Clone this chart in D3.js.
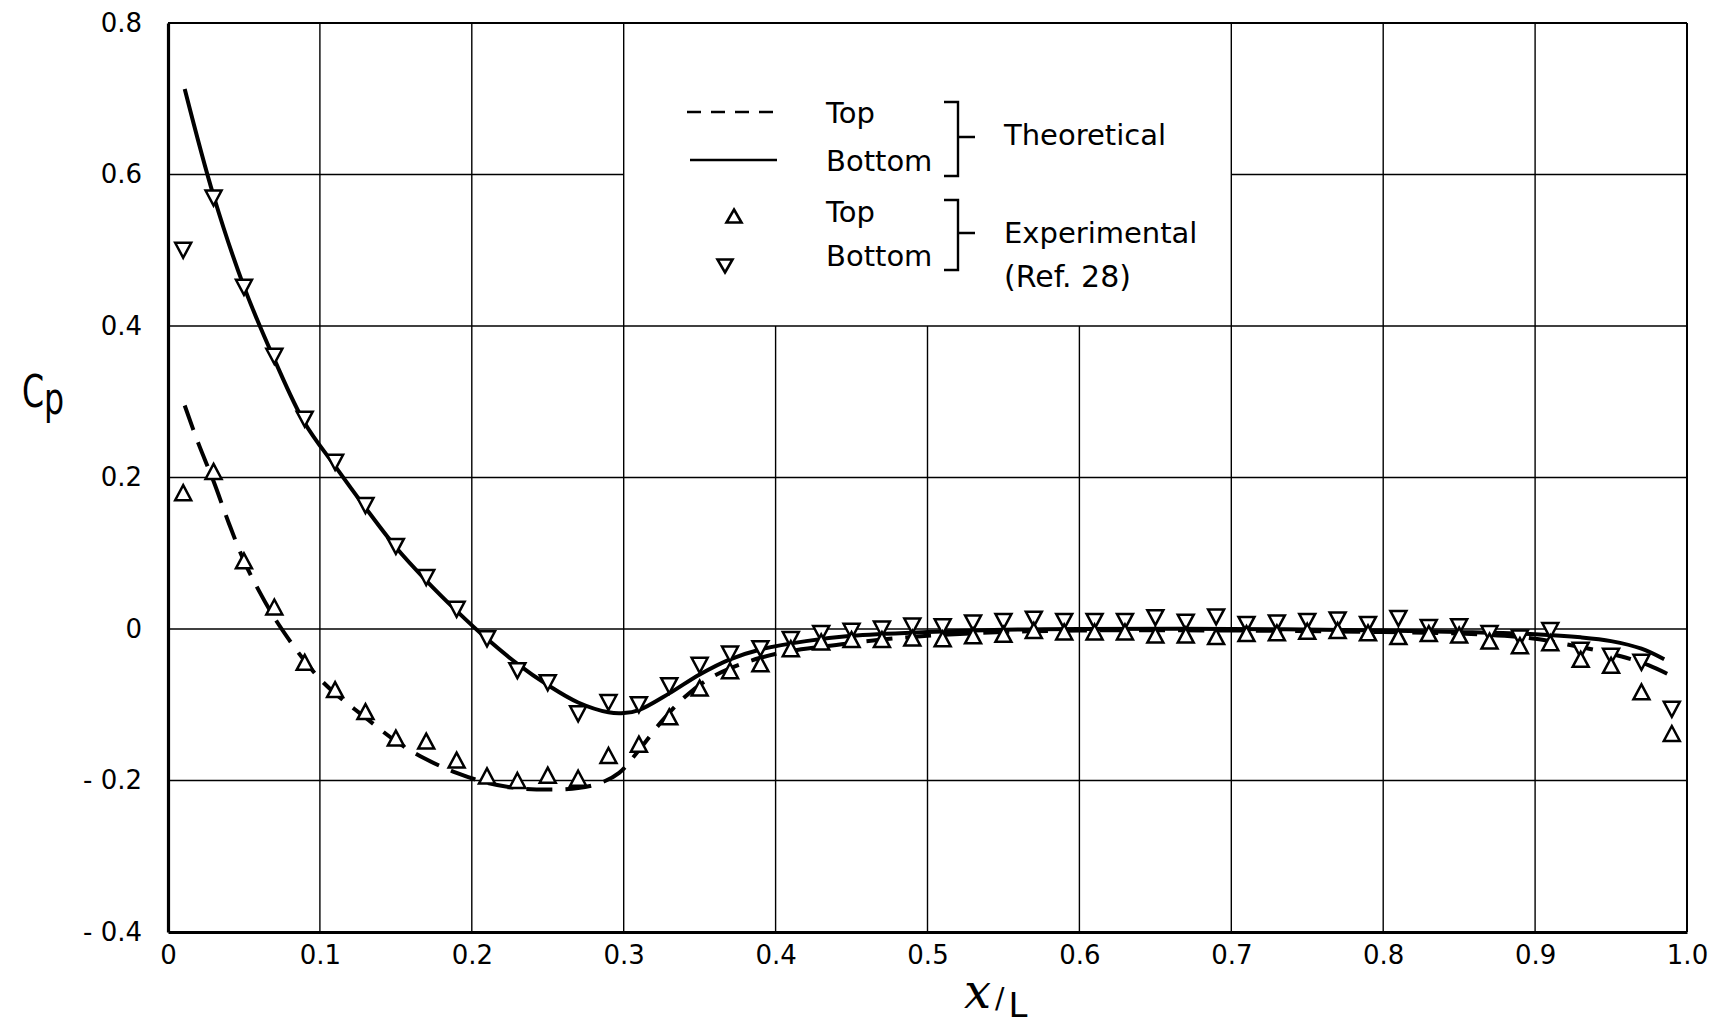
<!DOCTYPE html>
<html>
<head>
<meta charset="utf-8">
<script src="https://cdn.jsdelivr.net/npm/d3@7"></script>
<style>
body { margin: 0; background: #fff; }
text { font-family: "DejaVu Sans", sans-serif; fill: #000; }
</style>
</head>
<body>
<svg id="chart" width="1717" height="1027"></svg>
<script>
// experimental stations (Ref. 28)
var expX = [0.01, 0.03, 0.05, 0.07, 0.09, 0.11, 0.13, 0.15, 0.17, 0.19,
            0.21, 0.23, 0.25, 0.27, 0.29, 0.31, 0.33, 0.35, 0.37, 0.39,
            0.41, 0.43, 0.45, 0.47, 0.49, 0.51, 0.53, 0.55, 0.57, 0.59,
            0.61, 0.63, 0.65, 0.67, 0.69, 0.71, 0.73, 0.75, 0.77, 0.79,
            0.81, 0.83, 0.85, 0.87, 0.89, 0.91, 0.93, 0.95, 0.97, 0.99];
var expTop = [0.18, 0.208, 0.09, 0.029, -0.044, -0.08, -0.109, -0.144, -0.148, -0.173,
              -0.194, -0.20, -0.193, -0.197, -0.167, -0.152, -0.116, -0.078, -0.055, -0.046,
              -0.026, -0.017, -0.014, -0.014, -0.012, -0.013, -0.009, -0.007, -0.002, -0.004,
              -0.004, -0.004, -0.008, -0.008, -0.010, -0.006, -0.005, -0.003, -0.002, -0.005,
              -0.010, -0.006, -0.008, -0.016, -0.022, -0.018, -0.040, -0.048, -0.083, -0.138];
var expBottom = [0.50, 0.569, 0.451, 0.36, 0.277, 0.22, 0.163, 0.109, 0.068, 0.026,
                 -0.013, -0.055, -0.071, -0.112, -0.097, -0.10, -0.075, -0.048, -0.033, -0.026,
                 -0.014, -0.006, -0.003, 0.0, 0.004, 0.003, 0.008, 0.010, 0.013, 0.010,
                 0.010, 0.010, 0.015, 0.009, 0.016, 0.006, 0.008, 0.010, 0.012, 0.006,
                 0.014, 0.002, 0.003, -0.006, -0.012, -0.002, -0.028, -0.036, -0.044, -0.106];

// theoretical curves
var thTopX = [0.011, 0.02, 0.03, 0.04, 0.05, 0.06, 0.07, 0.08, 0.09, 0.10,
              0.11, 0.13, 0.15, 0.17, 0.19, 0.21, 0.23, 0.25,
              0.27, 0.285, 0.297, 0.31, 0.325, 0.34, 0.355, 0.37, 0.39, 0.41,
              0.44, 0.47, 0.50, 0.55, 0.60, 0.70, 0.80, 0.85, 0.88, 0.90,
              0.92, 0.94, 0.96, 0.975, 0.99];
var thTopY = [0.295, 0.245, 0.195, 0.14, 0.09, 0.05, 0.015, -0.015, -0.042, -0.066,
              -0.085, -0.117, -0.148, -0.172, -0.19, -0.203, -0.21, -0.212,
              -0.21, -0.203, -0.19, -0.16, -0.122, -0.09, -0.067, -0.052, -0.038, -0.029,
              -0.021, -0.014, -0.009, -0.004, -0.002, -0.002, -0.004, -0.006, -0.009, -0.013,
              -0.020, -0.028, -0.038, -0.048, -0.062];
var thBotX = [0.011, 0.03, 0.05, 0.07, 0.09, 0.11, 0.13, 0.15, 0.17, 0.19,
              0.21, 0.23, 0.25, 0.27, 0.29, 0.30, 0.31, 0.33, 0.35, 0.37,
              0.39, 0.42, 0.45, 0.50, 0.55, 0.60, 0.70, 0.80, 0.85, 0.90,
              0.93, 0.95, 0.97, 0.985];
var thBotY = [0.713, 0.572, 0.452, 0.356, 0.272, 0.215, 0.160, 0.108, 0.064, 0.024,
              -0.013, -0.046, -0.074, -0.097, -0.110, -0.111, -0.107, -0.085, -0.060, -0.040,
              -0.027, -0.016, -0.009, -0.004, -0.001, 0.0, 0.0, -0.002, -0.004, -0.007,
              -0.011, -0.016, -0.026, -0.040];

var xTicks = [0, 0.1, 0.2, 0.3, 0.4, 0.5, 0.6, 0.7, 0.8, 0.9, 1.0];
var xTickLabels = ["0", "0.1", "0.2", "0.3", "0.4", "0.5", "0.6", "0.7", "0.8", "0.9", "1.0"];
var yTicks = [0.8, 0.6, 0.4, 0.2, 0, -0.2, -0.4];
var yTickLabels = ["0.8", "0.6", "0.4", "0.2", "0", "- 0.2", "- 0.4"];

var svg = d3.select("#chart");
var margin = {left: 168, right: 30, top: 23, bottom: 95};
var width = 1717 - margin.left - margin.right;
var height = 1027 - margin.top - margin.bottom;

var x = d3.scaleLinear().domain([0, 1]).range([0, width]);
var y = d3.scaleLinear().domain([-0.4, 0.8]).range([height, 0]);

var g = svg.append("g")
    .attr("transform", "translate(" + margin.left + "," + margin.top + ")");

// grid, left blank where the legend sits (0.3..0.7, above 0.4)
var gap = {x0: 0.3, x1: 0.7, y0: 0.4};
var grid = g.append("g").attr("stroke", "#000").attr("stroke-width", 1.4);

grid.selectAll("line.v")
  .data(xTicks.filter(d => d > 0 && d < 1))
  .join("line")
    .attr("class", "v")
    .attr("x1", d => x(d)).attr("x2", d => x(d))
    .attr("y1", y(-0.4))
    .attr("y2", d => (d > gap.x0 + 1e-9 && d < gap.x1 - 1e-9) ? y(gap.y0) : y(0.8));

var hSegs = [];
yTicks.filter(d => d > -0.4 && d < 0.8).forEach(function(d) {
  if (d > gap.y0 + 1e-9) {
    hSegs.push({v: d, a: 0, b: gap.x0});
    hSegs.push({v: d, a: gap.x1, b: 1});
  } else {
    hSegs.push({v: d, a: 0, b: 1});
  }
});
grid.selectAll("line.h")
  .data(hSegs)
  .join("line")
    .attr("class", "h")
    .attr("x1", d => x(d.a)).attr("x2", d => x(d.b))
    .attr("y1", d => y(d.v)).attr("y2", d => y(d.v));

// frame
g.append("line").attr("x1", x(0)).attr("x2", x(1)).attr("y1", y(0.8)).attr("y2", y(0.8))
  .attr("stroke", "#000").attr("stroke-width", 2);
g.append("line").attr("x1", x(1)).attr("x2", x(1)).attr("y1", y(0.8)).attr("y2", y(-0.4))
  .attr("stroke", "#000").attr("stroke-width", 2);

// axes
var xAxis = g.append("g")
    .attr("transform", "translate(0," + height + ")")
    .call(d3.axisBottom(x).tickValues(xTicks).tickSize(0).tickSizeOuter(0).tickPadding(14)
      .tickFormat((d, i) => xTickLabels[i]));
var yAxis = g.append("g")
    .call(d3.axisLeft(y).tickValues(yTicks).tickSize(0).tickSizeOuter(0).tickPadding(26)
      .tickFormat((d, i) => yTickLabels[i]));
[xAxis, yAxis].forEach(function(a) {
  a.select(".domain").attr("stroke", "#000").attr("stroke-width", 3.2);
  a.selectAll("text").style("font-family", "DejaVu Sans, sans-serif").style("font-size", "26px").attr("fill", "#000");
});

// theoretical lines
var line = d3.line().x(d => x(d[0])).y(d => y(d[1])).curve(d3.curveCatmullRom.alpha(0.5));
g.append("path")
    .datum(d3.zip(thTopX, thTopY))
    .attr("d", line)
    .attr("fill", "none").attr("stroke", "#000").attr("stroke-width", 4)
    .attr("stroke-dasharray", "26,13");
g.append("path")
    .datum(d3.zip(thBotX, thBotY))
    .attr("d", line)
    .attr("fill", "none").attr("stroke", "#000").attr("stroke-width", 4);

// markers
function tri(w, h, up) {
  return up
    ? "M0," + (-h / 2) + "L" + (w / 2) + "," + (h / 2) + "L" + (-w / 2) + "," + (h / 2) + "Z"
    : "M0," + (h / 2) + "L" + (w / 2) + "," + (-h / 2) + "L" + (-w / 2) + "," + (-h / 2) + "Z";
}
g.append("g").selectAll("path")
  .data(d3.zip(expX, expBottom))
  .join("path")
    .attr("transform", d => "translate(" + x(d[0]) + "," + y(d[1]) + ")")
    .attr("d", tri(16, 15, false))
    .attr("fill", "#fff").attr("stroke", "#000").attr("stroke-width", 2.5);
g.append("g").selectAll("path")
  .data(d3.zip(expX, expTop))
  .join("path")
    .attr("transform", d => "translate(" + x(d[0]) + "," + y(d[1]) + ")")
    .attr("d", tri(16, 15, true))
    .attr("fill", "#fff").attr("stroke", "#000").attr("stroke-width", 2.5);

// axis titles
var cp = svg.append("text").attr("transform", "translate(22,407) scale(0.72,1)")
    .style("font-size", "44px");
cp.append("tspan").text("C");
cp.append("tspan").attr("dy", 7).text("p");

var xl = svg.append("text").attr("x", 964).attr("y", 1008);
xl.append("tspan").style("font-family", "DejaVu Serif, serif").style("font-style", "italic")
  .style("font-size", "48px").text("x");
xl.append("tspan").attr("dx", 4).attr("dy", 0).style("font-size", "28px").text("/");
xl.append("tspan").attr("dx", 4).attr("dy", 9).style("font-size", "34px").text("L");

// legend
var lg = svg.append("g").style("font-size", "29px");
lg.append("line").attr("x1", 687).attr("x2", 774).attr("y1", 112).attr("y2", 112)
  .attr("stroke", "#000").attr("stroke-width", 2.6).attr("stroke-dasharray", "14,10");
lg.append("line").attr("x1", 690).attr("x2", 777).attr("y1", 160).attr("y2", 160)
  .attr("stroke", "#000").attr("stroke-width", 2.6);
lg.append("path").attr("transform", "translate(734,216)").attr("d", tri(15, 13, true))
  .attr("fill", "#fff").attr("stroke", "#000").attr("stroke-width", 2.6);
lg.append("path").attr("transform", "translate(725,266)").attr("d", tri(15, 13, false))
  .attr("fill", "#fff").attr("stroke", "#000").attr("stroke-width", 2.6);

lg.append("text").attr("x", 826).attr("y", 123).text("Top");
lg.append("text").attr("x", 826).attr("y", 171).text("Bottom");
lg.append("text").attr("x", 826).attr("y", 222).text("Top");
lg.append("text").attr("x", 826).attr("y", 266).text("Bottom");
lg.append("text").attr("x", 1004).attr("y", 145).text("Theoretical");
lg.append("text").attr("x", 1004).attr("y", 243).text("Experimental");
lg.append("text").attr("x", 1004).attr("y", 287).style("font-size", "30px").text("(Ref. 28)");

function bracket(y0, y1, ym) {
  lg.append("path")
    .attr("d", "M944," + y0 + "H958V" + y1 + "H944M958," + ym + "H975")
    .attr("fill", "none").attr("stroke", "#000").attr("stroke-width", 2.4);
}
bracket(102, 176, 137);
bracket(200, 270, 233);
</script>
</body>
</html>
